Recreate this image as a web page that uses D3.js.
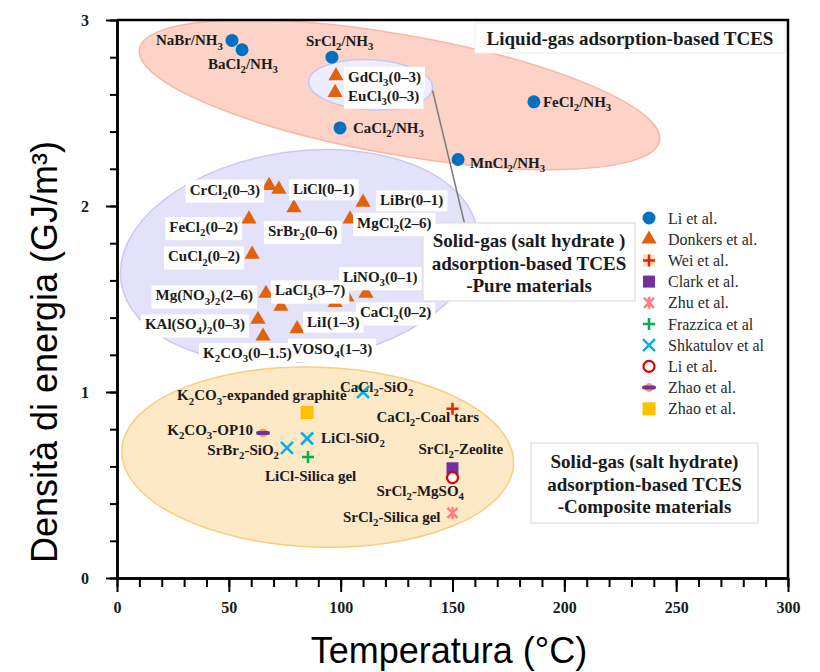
<!DOCTYPE html>
<html><head><meta charset="utf-8">
<script src="https://cdn.jsdelivr.net/npm/d3@7"></script>
<style>body{margin:0;background:#fff}svg{display:block}</style>
</head><body>
<svg id="chart" width="820" height="672"></svg>
<script>
// ---- data: temperature (°C) vs energy density (GJ/m3) ----
const liNH3 = [
  {label:"NaBr/NH_3",  t:51.4,  e:2.89},
  {label:"BaCl_2/NH_3", t:55.9, e:2.84},
  {label:"SrCl_2/NH_3", t:96.1, e:2.80},
  {label:"CaCl_2/NH_3", t:99.7, e:2.42},
  {label:"FeCl_2/NH_3", t:186.4, e:2.56},
  {label:"MnCl_2/NH_3", t:152.5, e:2.25}
];
const donkers = [
  {label:"GdCl_3(0–3)", t:97.9, e:2.70},
  {label:"EuCl_3(0–3)", t:97.5, e:2.61},
  {label:"CrCl_2(0–3)", t:68.0, e:2.11},
  {label:"LiCl(0–1)", t:72.4, e:2.09},
  {label:"SrBr_2(0–6)", t:79.1, e:1.99},
  {label:"LiBr(0–1)", t:110.0, e:2.02},
  {label:"FeCl_2(0–2)", t:59.0, e:1.93},
  {label:"MgCl_2(2–6)", t:104.2, e:1.93},
  {label:"CuCl_2(0–2)", t:60.4, e:1.74},
  {label:"Mg(NO_3)_2(2–6)", t:66.6, e:1.53},
  {label:"LaCl_3(3–7)", t:73.3, e:1.46},
  {label:"LiI(1–3)", t:97.5, e:1.48},
  {label:"LiNO_3(0–1)", t:102.8, e:1.51},
  {label:"CaCl_2(0–2)", t:111.3, e:1.53},
  {label:"KAl(SO_4)_2(0–3)", t:63.0, e:1.39},
  {label:"K_2CO_3(0–1.5)", t:65.3, e:1.30},
  {label:"VOSO_4(1–3)", t:80.5, e:1.34}
];
const wei = [{label:"CaCl_2-Coal tars", t:150, e:0.91}];
const clark = [{label:"SrCl_2-Zeolite", t:150, e:0.59}];
const zhu = [{label:"SrCl_2-Silica gel", t:150, e:0.35}];
const frazzica = [{label:"LiCl-Silica gel", t:85.4, e:0.65}];
const shkatulov = [
  {label:"CaCl_2-SiO_2", t:110, e:1.00},
  {label:"LiCl-SiO_2", t:85, e:0.75},
  {label:"SrBr_2-SiO_2", t:76, e:0.70}
];
const liComposite = [{label:"SrCl_2-MgSO_4", t:150, e:0.54}];
const zhaoOP10 = [{label:"K_2CO_3-OP10", t:65.3, e:0.78}];
const zhaoGraphite = [{label:"K_2CO_3-expanded graphite", t:85, e:0.89}];

const series = [
  {name:"Li et al.",        kind:"dot",      data:liNH3},
  {name:"Donkers et al.",   kind:"triangle", data:donkers},
  {name:"Wei et al.",       kind:"wei",      data:wei},
  {name:"Clark et al.",     kind:"square",   data:clark},
  {name:"Zhu et al.",       kind:"asterisk", data:zhu},
  {name:"Frazzica et al",   kind:"plus",     data:frazzica},
  {name:"Shkatulov et al",  kind:"cross",    data:shkatulov},
  {name:"Li et al.",        kind:"ring",     data:liComposite},
  {name:"Zhao et al.",      kind:"bar",      data:zhaoOP10},
  {name:"Zhao et al.",      kind:"gold",     data:zhaoGraphite}
];

const xTicks = [0, 50, 100, 150, 200, 250, 300];
const yTicks = [0, 1, 2, 3];

// label offsets from their marker (px): [dx, dy, anchor, boxed]
const labelPlacement = {
  "NaBr/NH_3":[-9,5,"end",false], "BaCl_2/NH_3":[-34,19,"start",false],
  "SrCl_2/NH_3":[-26,-11,"start",false], "CaCl_2/NH_3":[13,5,"start",false],
  "FeCl_2/NH_3":[9,5,"start",false], "MnCl_2/NH_3":[12,8,"start",false],
  "GdCl_3(0–3)":[12,6,"start",true], "EuCl_3(0–3)":[13,8,"start",true],
  "CrCl_2(0–3)":[-9,9,"end",true], "LiCl(0–1)":[14,5,"start",true],
  "SrBr_2(0–6)":[-26,28,"start",true], "LiBr(0–1)":[17,3,"start",true],
  "FeCl_2(0–2)":[-11,13,"end",true], "MgCl_2(2–6)":[7,9,"start",true],
  "CuCl_2(0–2)":[-12,7,"end",true], "Mg(NO_3)_2(2–6)":[-13,7,"end",true],
  "LaCl_3(3–7)":[-6,-11,"start",true], "LiI(1–3)":[-28,24,"start",true],
  "LiNO_3(0–1)":[-4,-15,"start",true], "CaCl_2(0–2)":[-6,24,"start",true],
  "KAl(SO_4)_2(0–3)":[-13,10,"end",true], "K_2CO_3(0–1.5)":[-60,22,"start",true],
  "VOSO_4(1–3)":[-5,25,"start",true],
  "CaCl_2-SiO_2":[-23,0,"start",false], "K_2CO_3-expanded graphite":[-130,-12,"start",false],
  "CaCl_2-Coal tars":[-76,13,"start",false], "K_2CO_3-OP10":[-10,2,"end",false],
  "LiCl-SiO_2":[14,4,"start",false], "SrBr_2-SiO_2":[-8,7,"end",false],
  "LiCl-Silica gel":[-43,24,"start",false], "SrCl_2-Zeolite":[-34,-14,"start",false],
  "SrCl_2-MgSO_4":[-76,18,"start",false], "SrCl_2-Silica gel":[-12,9,"end",false]
};

// shaded material families (centre in data units, radii in px, rotation in deg)
const regions = [
  {t:126.3, e:2.598, rx:264, ry:60, rot:10, fill:"#fcd3c6", stroke:"#f9b7a3"},
  {t:81.5,  e:1.728, rx:180, ry:105, rot:-8, fill:"#e4e2fb", stroke:"#cbc7f5"},
  {t:89.7,  e:0.65,  rx:196, ry:90, rot:2, fill:"#fde9c6", stroke:"#f8cd80"},
  {t:113.4, e:2.652, rx:62, ry:25, rot:3, fill:"#eeedfd", stroke:"#c9c5f5"}
];

const svg = d3.select("#chart");
const x = d3.scaleLinear().domain([0, 300]).range([117, 788]);
const y = d3.scaleLinear().domain([0, 3]).range([578, 20]);
const SERIF = "'Liberation Serif','Times New Roman',serif";
const SANS = "'Liberation Sans',Arial,sans-serif";

// regions
svg.append("g").selectAll("ellipse").data(regions).join("ellipse")
  .attr("transform", d => `translate(${x(d.t)},${y(d.e)}) rotate(${d.rot})`)
  .attr("rx", d => d.rx).attr("ry", d => d.ry)
  .attr("fill", d => d.fill).attr("stroke", d => d.stroke).attr("stroke-width", 1.5);

// connector from the small rare-earth group to the pure-materials note
svg.append("line")
  .attr("x1", x(141.1)).attr("y1", y(2.62))
  .attr("x2", x(155.3)).attr("y2", y(1.91))
  .attr("stroke", "#7a7a7a").attr("stroke-width", 1.5);

// rich text with _n subscripts
function richText(sel, str, size) {
  const parts = str.split(/_(\d+)/);
  const shift = size * 0.28;
  let lowered = false;
  parts.forEach((p, i) => {
    if (i % 2 === 1) {
      sel.append("tspan").attr("font-size", size * 0.72).attr("dy", shift).text(p);
      lowered = true;
    } else if (p !== "") {
      sel.append("tspan").attr("dy", lowered ? -shift : 0).text(p);
      lowered = false;
    }
  });
}

// note boxes
function noteBox(x0, y0, x1, y1, lines, size, baseline0, lead, stroke) {
  svg.append("rect").attr("x", x0).attr("y", y0).attr("width", x1 - x0).attr("height", y1 - y0)
    .attr("fill", "#fff").attr("stroke", stroke).attr("stroke-width", 1.2);
  lines.forEach((l, i) => {
    svg.append("text").attr("x", (x0 + x1) / 2).attr("y", baseline0 + i * lead)
      .attr("text-anchor", "middle").attr("font-family", SERIF).attr("font-weight", "bold")
      .attr("font-size", size).attr("fill", "#1a1a1a").text(l);
  });
}
noteBox(475, 23, 785, 53, ["Liquid-gas adsorption-based TCES"], 19, 44.5, 0, "#f2f2f2");
noteBox(423, 223, 635, 301, ["Solid-gas (salt hydrate )", "adsorption-based TCES", "-Pure materials"], 19, 247, 22.5, "#dedede");
noteBox(531, 443, 758, 523, ["Solid-gas (salt hydrate)", "adsorption-based TCES", "-Composite materials"], 19, 468, 22.5, "#dedede");

// marker drawing
function drawMarker(g, kind) {
  switch (kind) {
    case "dot": g.append("circle").attr("r", 6.5).attr("fill", "#0070c0"); break;
    case "triangle": g.append("path").attr("d", d3.symbol(d3.symbolTriangle, 100)()).attr("fill", "#e2620c"); break;
    case "wei":
      g.append("rect").attr("x", -6).attr("y", -6).attr("width", 12).attr("height", 12).attr("fill", "#fde4ad");
      g.append("path").attr("d", "M-6,0H6M0,-6V6").attr("stroke", "#ee1c1c").attr("stroke-width", 2.5);
      break;
    case "square": g.append("rect").attr("x", -6).attr("y", -6).attr("width", 12).attr("height", 12).attr("fill", "#7030a0"); break;
    case "asterisk": g.append("path").attr("d", "M-5,-5L5,5M5,-5L-5,5M0,-6V6").attr("stroke", "#ff7c80").attr("stroke-width", 2.5); break;
    case "plus": g.append("path").attr("d", "M-6,0H6M0,-6V6").attr("stroke", "#00b050").attr("stroke-width", 2.5); break;
    case "cross": g.append("path").attr("d", "M-6,-6L6,6M6,-6L-6,6").attr("stroke", "#00b0f0").attr("stroke-width", 2.5); break;
    case "ring": g.append("circle").attr("r", 5.5).attr("fill", "#fff").attr("stroke", "#e00000").attr("stroke-width", 2.2); break;
    case "bar":
      g.append("circle").attr("r", 4.5).attr("fill", "#f4a26b");
      g.append("rect").attr("x", -7).attr("y", -2).attr("width", 14).attr("height", 4).attr("rx", 2).attr("fill", "#7030a0");
      break;
    case "gold": g.append("rect").attr("x", -6.5).attr("y", -6.5).attr("width", 13).attr("height", 13).attr("fill", "#ffc000"); break;
  }
}

// points
series.forEach(s => {
  s.data.forEach(d => {
    const g = svg.append("g").attr("transform", `translate(${x(d.t)},${y(d.e)})`);
    drawMarker(g, s.kind);
  });
});

// point labels: white backing boxes go underneath every label text
const boxLayer = svg.append("g");
const textLayer = svg.append("g");
series.forEach(s => {
  s.data.forEach(d => {
    const [dx, dy, anchor, boxed] = labelPlacement[d.label];
    const txt = textLayer.append("text").attr("x", x(d.t) + dx).attr("y", y(d.e) + dy)
      .attr("text-anchor", anchor).attr("font-family", SERIF).attr("font-weight", "bold")
      .attr("font-size", 15).attr("fill", "#1a1a1a");
    richText(txt, d.label, 15);
    if (boxed) {
      const b = txt.node().getBBox();
      boxLayer.append("rect").attr("x", b.x - 4).attr("y", b.y - 2)
        .attr("width", b.width + 8).attr("height", b.height + 4).attr("fill", "#fff");
    }
  });
});

// legend
const legend = svg.append("g").attr("transform", "translate(649,218)");
series.forEach((s, i) => {
  const g = legend.append("g").attr("transform", `translate(0,${i * 21.2})`);
  drawMarker(g, s.kind);
  g.append("text").attr("x", 19).attr("y", 5.5).attr("font-family", SERIF)
    .attr("font-size", 16).attr("fill", "#2a2a2a").text(s.name);
});

// axes
const axisStyle = g => {
  g.attr("font-family", SERIF);
  g.selectAll(".domain").attr("stroke", "#000").attr("stroke-width", 2.5);
  g.selectAll(".tick line").attr("stroke", "#000").attr("stroke-width", 2);
  g.selectAll(".tick text").attr("font-family", SERIF).attr("font-weight", "bold")
    .attr("font-size", 16).attr("fill", "#1a1a1a");
};
svg.append("g").attr("transform", "translate(0,578)")
  .call(d3.axisBottom(x).tickValues(d3.range(0, 301, 10)).tickSize(9).tickSizeOuter(0).tickFormat(""))
  .call(axisStyle);
svg.append("g").attr("transform", "translate(0,578)")
  .call(d3.axisBottom(x).tickValues(xTicks).tickSize(14).tickSizeOuter(0).tickPadding(10).tickFormat(d3.format("d")))
  .call(axisStyle);
svg.append("g").attr("transform", "translate(117,0)")
  .call(d3.axisLeft(y).tickValues(d3.range(0, 3.01, 0.2)).tickSize(7).tickSizeOuter(0).tickFormat(""))
  .call(axisStyle);
svg.append("g").attr("transform", "translate(117,0)")
  .call(d3.axisLeft(y).tickValues(yTicks).tickSize(11).tickSizeOuter(0).tickPadding(17).tickFormat(d3.format("d")))
  .call(axisStyle);

// top and right frame
svg.append("path").attr("d", `M${x(0)},${y(3)}H${x(300)}V${y(0)}`)
  .attr("fill", "none").attr("stroke", "#000").attr("stroke-width", 2.5);

// axis titles
svg.append("text").attr("x", 449).attr("y", 663).attr("text-anchor", "middle")
  .attr("font-family", SANS).attr("font-size", 36).attr("fill", "#000").text("Temperatura (°C)");
svg.append("text").attr("transform", "translate(57,352) rotate(-90)").attr("text-anchor", "middle")
  .attr("font-family", SANS).attr("font-size", 36).attr("fill", "#000").text("Densità di energia (GJ/m³)");
</script>
</body></html>
